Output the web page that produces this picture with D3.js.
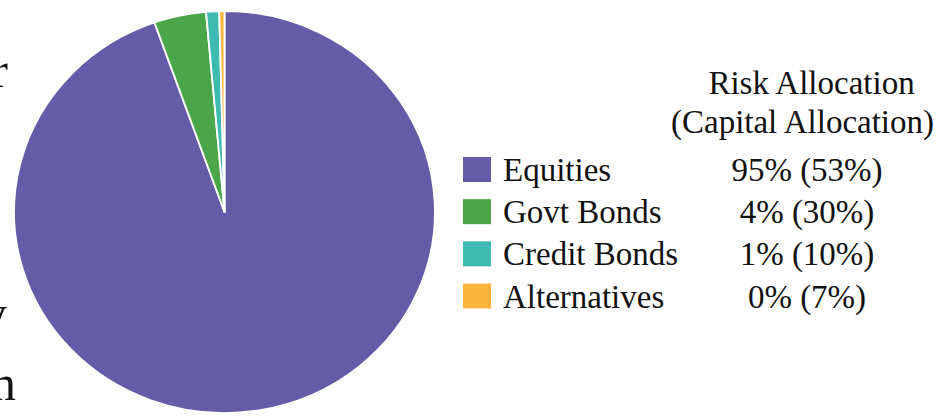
<!DOCTYPE html>
<html>
<head>
<meta charset="utf-8">
<script src="https://cdn.jsdelivr.net/npm/d3@7"></script>
<style>
  body { margin: 0; background: #fff; }
  svg { display: block; }
  text { font-family: "Liberation Serif", "Times New Roman", serif; fill: #111; }
</style>
</head>
<body>
<script>
// risk allocation data (pie drawn from risk shares)
var assets = ["Equities", "Govt Bonds", "Credit Bonds", "Alternatives"];
var riskShare = [94.6, 4.0, 1.0, 0.4];
var riskLabel = ["95%", "4%", "1%", "0%"];
var capitalLabel = ["53%", "30%", "10%", "7%"];
var colors = ["#645ca6", "#4ba64a", "#3fbab0", "#fdb43f"];

// cut-off slide text at the left edge
var edgeChars = ["r", "y", "n"];

var width = 938,
    height = 416;

var svg = d3.select("body")
    .append("svg")
    .attr("width", width)
    .attr("height", height);

svg.append("rect")
    .attr("width", width)
    .attr("height", height)
    .attr("fill", "#fff");

// stray characters from neighbouring text
var edgeG = svg.append("g").style("font-size", "50px");
edgeG.append("text").attr("x", 8).attr("y", 87).attr("text-anchor", "end").text(edgeChars[0]);
edgeG.append("text").attr("x", 7).attr("y", 330).attr("text-anchor", "end").text(edgeChars[1]);
edgeG.append("text").attr("x", 16).attr("y", 400).attr("text-anchor", "end").text(edgeChars[2]);

//pie
var radius = 201;
var pie = d3.pie().sort(null).value(function(d){ return d; });
var arc = d3.arc().innerRadius(0).outerRadius(radius);

var pieG = svg.append("g")
    .attr("transform", "translate(224.5,212) scale(1.047,1)");

pieG.selectAll("path")
    .data(pie(riskShare))
    .enter()
    .append("path")
    .attr("d", arc)
    .attr("fill", function(d, i){ return colors[i]; })
    .attr("stroke", "#fff")
    .attr("stroke-width", 1.8)
    .attr("stroke-linejoin", "round");

//legend
var colX = 807;
var fs = 33;

svg.append("text")
    .attr("x", 811.5)
    .attr("y", 94)
    .attr("text-anchor", "middle")
    .style("font-size", fs + "px")
    .text("Risk Allocation");

svg.append("text")
    .attr("x", 802.5)
    .attr("y", 133)
    .attr("text-anchor", "middle")
    .style("font-size", fs + "px")
    .text("(Capital Allocation)");

var rowY = d3.scalePoint()
    .domain(assets)
    .range([181, 307.5]);

var rows = svg.selectAll(".legendRow")
    .data(assets)
    .enter()
    .append("g")
    .attr("class", "legendRow")
    .attr("transform", function(d){ return "translate(0," + rowY(d) + ")"; });

rows.append("rect")
    .attr("x", 463)
    .attr("y", -24)
    .attr("width", 28)
    .attr("height", 25)
    .attr("fill", function(d, i){ return colors[i]; });

rows.append("text")
    .attr("x", 503)
    .attr("y", 0)
    .style("font-size", fs + "px")
    .text(function(d){ return d; });

rows.append("text")
    .attr("x", colX)
    .attr("y", 0)
    .attr("text-anchor", "middle")
    .style("font-size", fs + "px")
    .text(function(d, i){ return riskLabel[i] + " (" + capitalLabel[i] + ")"; });
</script>
</body>
</html>
